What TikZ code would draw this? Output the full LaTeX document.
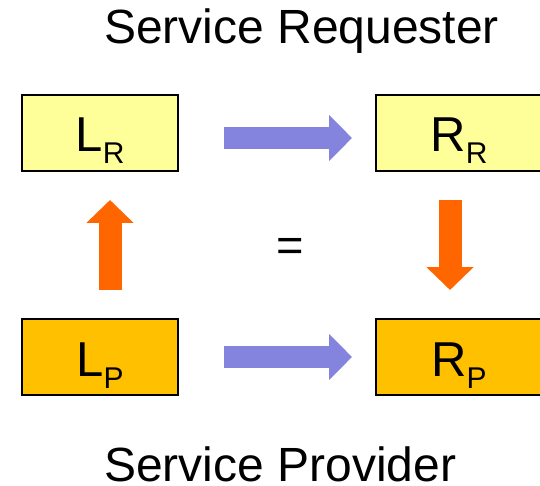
\documentclass[tikz,border=0pt]{standalone}
\usepackage{fontspec}
\setmainfont{Liberation Sans}
\usetikzlibrary{arrows.meta,positioning}

\definecolor{paleyellow}{RGB}{255,255,153}
\definecolor{boxorange}{RGB}{255,192,0}
\definecolor{arrowblue}{RGB}{132,132,222}
\definecolor{arroworange}{RGB}{255,102,0}

\newcommand{\sublabel}[2]{#1\raisebox{-12pt}{\fontsize{30}{30}\selectfont #2}}

\begin{document}
\begin{tikzpicture}[x=1pt, y=-1pt,
  mapbox/.style = {draw, line width = 2pt, inner sep = 0pt, minimum height = 76pt,
    text height = 38pt, text depth = 0pt, font = \fontsize{49}{49}\selectfont},
  reqbox/.style = {mapbox, fill = paleyellow},
  provbox/.style = {mapbox, fill = boxorange},
  titletext/.style = {anchor = base west, inner sep = 0pt, font = \fontsize{48}{48}\selectfont},
  blockright/.style = {arrowblue, line width = 22pt, -{Triangle[length = 23pt, width = 45pt]}},
  blockvert/.style = {arroworange, line width = 23pt, -{Triangle[length = 23pt, width = 46pt]}}
]
\useasboundingbox (0,0) rectangle (540,486);
\clip (0,0) rectangle (540,486);

\node[reqbox, minimum width = 156pt] (LR) at (100,133) {\sublabel{L}{R}};
\node[reqbox, minimum width = 166pt, right = 196pt of LR] (RR) {\sublabel{R}{R}};
\node[provbox, minimum width = 156pt, below = 146pt of LR] (LP) {\sublabel{L}{P}};
\node[provbox, minimum width = 166pt, below = 146pt of RR] (RP) {\sublabel{R}{P}};

\node[titletext] (req) at (104,44) {Service Requester};
\node[titletext] (prov) at (104,481) {Service Provider};
\node[font = \fontsize{47}{47}\selectfont] (eq) at (290,250) {=};

% mappings
\draw[blockright, shorten <= 45pt, shorten >= 23pt] ([yshift=-5pt]LR.east) -- ([yshift=-5pt]RR.west);
\draw[blockright, shorten <= 45pt, shorten >= 23pt] (LP.east) -- (RP.west);
\draw[blockvert, shorten <= 28pt, shorten >= 28pt] ([xshift=10pt]LP.north) -- ([xshift=10pt]LR.south);
\draw[blockvert, shorten <= 28pt, shorten >= 28pt] ([xshift=-9pt]RR.south) -- ([xshift=-9pt]RP.north);
\end{tikzpicture}
\end{document}
